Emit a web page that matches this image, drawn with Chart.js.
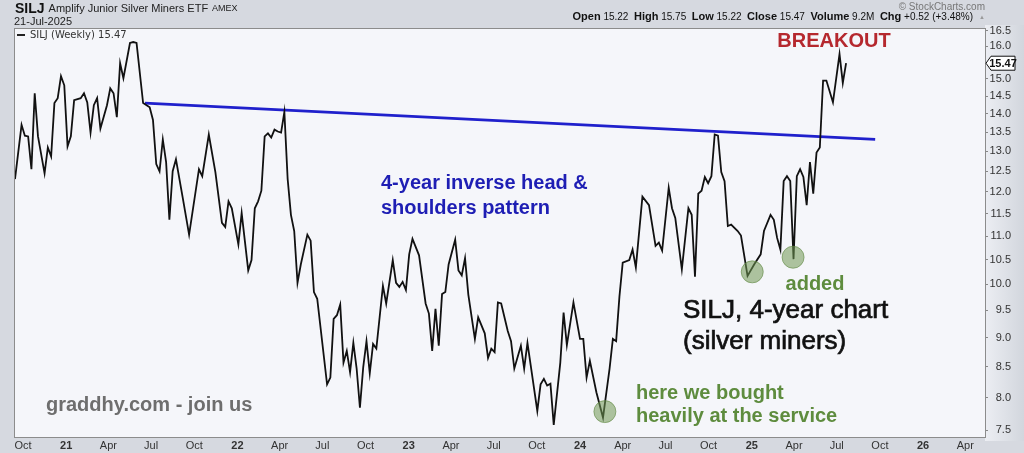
<!DOCTYPE html>
<html>
<head>
<meta charset="utf-8">
<script src="https://cdn.jsdelivr.net/npm/chart.js@4.4.1/dist/chart.umd.min.js"></script>
<style>
  html, body { margin: 0; padding: 0; background: #d6d9e0; }
  #wrap { width: 1024px; height: 453px; }
</style>
</head>
<body>
<div id="wrap"><canvas id="chartCanvas" width="1024" height="453"></canvas></div>
<script>
// weekly closes, x = weeks after startDate
const startDate = '2020-09-14';
const weeks = [
  0, 2, 3, 4, 5, 6, 7, 9, 10, 11,
  12, 13, 14, 15, 16, 17, 18, 20, 21, 22,
  23, 24, 25, 26, 28, 29, 30, 31, 32, 33,
  35, 36, 37, 39, 41, 42, 43, 44, 45, 46,
  47, 48, 49, 51, 53, 56, 57, 59, 61, 63,
  64, 65, 66, 68, 69, 71, 72, 73, 74, 75,
  76, 77, 78, 79, 80, 81, 82, 83, 84, 85,
  86, 87, 89, 90, 91, 92, 95, 96, 97, 98,
  99, 100, 101, 102, 103, 104, 105, 106, 107, 108,
  109, 110, 112, 113, 115, 116, 117, 118, 119, 120,
  121, 123, 125, 126, 127, 128, 129, 130, 131, 132,
  134, 135, 136, 137, 138, 140, 141, 143, 144, 145,
  146, 147, 148, 150, 151, 152, 154, 155, 156, 159,
  160, 161, 162, 163, 164, 166, 167, 168, 170, 172,
  173, 174, 175, 177, 179, 181, 182, 183, 184, 185,
  187, 188, 189, 191, 193, 195, 196, 197, 199, 200,
  201, 203, 205, 206, 207, 208, 209, 210, 211, 212,
  213, 214, 215, 216, 217, 218, 220, 221, 223, 225,
  227, 228, 230, 231, 232, 233, 234, 235, 236, 237,
  238, 239, 240, 241, 242, 243, 244, 245, 246, 247,
  249, 251, 252, 253
];
const closes = [
  12.31, 13.70, 13.41, 13.39, 12.55, 14.58, 13.39, 12.45, 13.10, 12.87,
  14.30, 14.44, 15.08, 14.81, 13.13, 13.39, 14.38, 14.44, 14.58, 14.32,
  13.49, 14.24, 14.44, 13.60, 14.24, 14.72, 14.58, 13.91, 15.47, 15.02,
  16.10, 16.13, 16.10, 14.30, 14.18, 13.83, 12.68, 12.50, 13.31, 12.73,
  11.36, 12.50, 12.80, 11.89, 11.03, 12.55, 12.38, 13.44, 12.48, 11.29,
  11.20, 11.78, 11.62, 10.82, 11.51, 10.28, 10.49, 11.62, 11.78, 12.03,
  13.39, 13.47, 13.36, 13.57, 13.52, 13.49, 14.05, 12.31, 11.47, 11.11,
  10.03, 10.40, 11.03, 10.90, 9.85, 9.72, 8.21, 8.32, 9.34, 9.41,
  9.61, 8.57, 8.77, 8.41, 8.91, 8.47, 7.84, 8.49, 8.94, 8.39,
  8.89, 8.81, 9.97, 9.63, 10.49, 10.03, 9.95, 10.05, 9.89, 10.61,
  10.94, 10.59, 9.63, 9.44, 8.77, 9.53, 8.86, 9.81, 9.85, 10.40,
  10.92, 10.28, 10.18, 10.53, 9.80, 8.98, 9.37, 9.08, 8.65, 8.81,
  8.75, 9.65, 9.63, 9.12, 8.94, 8.47, 8.86, 8.47, 8.91, 7.79,
  8.21, 8.30, 8.19, 8.22, 7.58, 8.57, 9.46, 8.87, 9.65, 8.98,
  8.98, 8.32, 8.60, 8.08, 7.69, 8.47, 8.98, 8.94, 9.76, 10.44,
  10.49, 10.71, 10.34, 11.89, 11.69, 10.79, 10.86, 10.69, 12.10, 11.62,
  11.40, 10.30, 11.62, 11.47, 10.15, 11.96, 12.03, 12.36, 12.21, 12.38,
  13.44, 13.41, 12.48, 12.26, 11.22, 11.25, 11.11, 11.01, 10.17, 10.40,
  10.61, 11.11, 11.47, 11.36, 10.96, 10.71, 12.26, 12.38, 12.26, 10.51,
  12.38, 12.55, 12.36, 11.69, 12.73, 11.96, 12.97, 13.10, 14.95, 14.95,
  14.32, 15.75, 14.88, 15.47
];

// neckline of the pattern
const trendDates = ['2021-06-18', '2025-09-21'];
const trendValues = [14.30, 13.31];

// green circles at the buy points
const circleDates = ['2024-02-23', '2025-01-02', '2025-03-30'];
const circleValues = [7.78, 10.25, 10.55];

const tickDates = [
  '2020-10-01', '2021-01-01', '2021-04-01', '2021-07-01', '2021-10-01', '2022-01-01',
  '2022-04-01', '2022-07-01', '2022-10-01', '2023-01-01', '2023-04-01', '2023-07-01',
  '2023-10-01', '2024-01-01', '2024-04-01', '2024-07-01', '2024-10-01', '2025-01-01',
  '2025-04-01', '2025-07-01', '2025-10-01', '2026-01-01', '2026-04-01'
];
const tickLabels = [
  'Oct', '21', 'Apr', 'Jul', 'Oct', '22', 'Apr', 'Jul', 'Oct', '23', 'Apr', 'Jul',
  'Oct', '24', 'Apr', 'Jul', 'Oct', '25', 'Apr', 'Jul', 'Oct', '26', 'Apr'
];
const yTicks = [7.5, 8.0, 8.5, 9.0, 9.5, 10.0, 10.5, 11.0, 11.5, 12.0, 12.5, 13.0, 13.5, 14.0, 14.5, 15.0, 15.5, 16.0, 16.5];
const endDate = '2026-05-13';

function weekOf(d) {
  return (Date.parse(d) - Date.parse(startDate)) / (7 * 864e5);
}

const FONT = 'Liberation Sans, Arial, sans-serif';

function txt(ctx, s, x, y, font, color, align, weight) {
  ctx.font = font;
  ctx.fillStyle = color;
  ctx.textAlign = align || 'left';
  ctx.textBaseline = 'middle';
  ctx.fillText(s, x, y);
  if (weight) {
    ctx.strokeStyle = color;
    ctx.lineWidth = weight;
    ctx.strokeText(s, x, y);
  }
  return ctx.measureText(s).width;
}

const decor = {
  id: 'decor',
  beforeDraw(chart) {
    const { ctx, chartArea: a } = chart;
    ctx.save();
    ctx.fillStyle = '#d6d9e0';
    ctx.fillRect(0, 0, chart.width, chart.height);
    const g = ctx.createLinearGradient(a.right, 0, chart.width, 0);
    g.addColorStop(0, '#eceef3');
    g.addColorStop(1, '#d2d6dd');
    ctx.fillStyle = g;
    ctx.fillRect(a.right, a.top - 4, chart.width - a.right, a.bottom - a.top + 8);
    ctx.fillStyle = '#f5f6fa';
    ctx.fillRect(a.left, a.top, a.right - a.left, a.bottom - a.top);
    ctx.restore();
  },
  afterDraw(chart) {
    const { ctx, chartArea: a } = chart;
    ctx.save();
    ctx.strokeStyle = '#8c8c8c';
    ctx.lineWidth = 1;
    ctx.strokeRect(a.left - 0.5, a.top - 0.5, a.right - a.left + 1, a.bottom - a.top + 1);

    // header
    let x = 15;
    x += txt(ctx, 'SILJ', x, 9, 'bold 14px ' + FONT, '#111');
    x += 4;
    x += txt(ctx, 'Amplify Junior Silver Miners ETF', x, 9, '11px ' + FONT, '#222');
    txt(ctx, 'AMEX', x + 4, 9, '9px ' + FONT, '#222');
    txt(ctx, '21-Jul-2025', 14, 22, '11px ' + FONT, '#222');
    txt(ctx, '\u00a9 StockCharts.com', 985, 7, '10px ' + FONT, '#777', 'right');

    const parts = [['Open', 1], [' 15.22  ', 0], ['High', 1], [' 15.75  ', 0], ['Low', 1], [' 15.22  ', 0],
      ['Close', 1], [' 15.47  ', 0], ['Volume', 1], [' 9.2M  ', 0], ['Chg', 1], [' +0.52 (+3.48%)', 0]];
    let total = 0;
    parts.forEach(p => { ctx.font = (p[1] ? 'bold 11px ' : '10px ') + FONT; total += ctx.measureText(p[0]).width; });
    x = 973 - total;
    parts.forEach(p => { x += txt(ctx, p[0], x, 17, (p[1] ? 'bold 11px ' : '10px ') + FONT, '#111'); });
    txt(ctx, '\u25b2', 979, 17, '6px ' + FONT, '#999');

    // legend
    ctx.strokeStyle = '#222';
    ctx.lineWidth = 2;
    ctx.beginPath(); ctx.moveTo(17, 35); ctx.lineTo(25, 35); ctx.stroke();
    txt(ctx, 'SILJ (Weekly) 15.47', 30, 35, '10px DejaVu Sans, sans-serif', '#333');

    // annotations
    const B = 'bold 20px ' + FONT;
    txt(ctx, 'BREAKOUT', 834, 41, B, '#b5282e', 'center');
    txt(ctx, '4-year inverse head &', 381, 183, B, '#1e1eb4');
    txt(ctx, 'shoulders pattern', 381, 208, B, '#1e1eb4');
    txt(ctx, 'added', 815, 284, B, '#5e8c3e', 'center');
    txt(ctx, 'SILJ, 4-year chart', 683, 311, '26px ' + FONT, '#111', 'left', 0.7);
    txt(ctx, '(silver miners)', 683, 342, '26px ' + FONT, '#111', 'left', 0.7);
    txt(ctx, 'here we bought', 636, 393, B, '#5e8c3e');
    txt(ctx, 'heavily at the service', 636, 416, B, '#5e8c3e');
    txt(ctx, 'graddhy.com - join us', 46, 405, B, '#6e6e6e');

    // last price tag
    const y = chart.scales.y.getPixelForValue(closes[closes.length - 1]);
    ctx.beginPath();
    ctx.moveTo(986, y);
    ctx.lineTo(991, y - 7);
    ctx.lineTo(1015, y - 7);
    ctx.lineTo(1015, y + 7);
    ctx.lineTo(991, y + 7);
    ctx.closePath();
    ctx.fillStyle = '#fff';
    ctx.fill();
    ctx.strokeStyle = '#111';
    ctx.lineWidth = 1;
    ctx.stroke();
    txt(ctx, closes[closes.length - 1].toFixed(2), 1003, y + 0.5, 'bold 11px ' + FONT, '#111', 'center');
    ctx.restore();
  }
};

new Chart(document.getElementById('chartCanvas').getContext('2d'), {
  type: 'line',
  data: {
    datasets: [
      {
        type: 'scatter',
        data: circleDates.map((d, i) => ({ x: weekOf(d), y: circleValues[i] })),
        pointRadius: 11,
        backgroundColor: 'rgba(112,152,82,0.55)',
        borderColor: 'rgba(95,135,65,0.6)',
        borderWidth: 1,
        order: 0
      },
      {
        data: weeks.map((w, i) => ({ x: w, y: closes[i] })),
        borderColor: '#111',
        borderWidth: 1.8,
        pointRadius: 0,
        tension: 0,
        order: 1
      },
      {
        data: trendDates.map((d, i) => ({ x: weekOf(d), y: trendValues[i] })),
        borderColor: '#2020cc',
        borderWidth: 2.8,
        pointRadius: 0,
        order: 2
      }
    ]
  },
  options: {
    responsive: false,
    animation: false,
    layout: { padding: { left: 15, top: 29, right: 13, bottom: 0 } },
    plugins: { legend: { display: false }, tooltip: { enabled: false } },
    scales: {
      x: {
        type: 'linear',
        min: 0,
        max: weekOf(endDate),
        afterBuildTicks: s => { s.ticks = tickDates.map(d => ({ value: weekOf(d) })); },
        afterFit: s => { s.height = 16; },
        grid: { display: false, drawTicks: false },
        border: { display: false },
        ticks: {
          autoSkip: false,
          maxRotation: 0,
          padding: 2,
          color: '#333',
          font: c => ({ family: FONT, size: 11, weight: /^\d/.test(tickLabels[c.index] || '') ? 'bold' : 'normal' }),
          callback: (v, i) => tickLabels[i]
        }
      },
      y: {
        type: 'logarithmic',
        position: 'right',
        min: 7.4,
        max: 16.55,
        afterBuildTicks: s => { s.ticks = yTicks.map(v => ({ value: v })); },
        afterFit: s => { s.width = 26; },
        grid: { drawOnChartArea: false, tickLength: 3, color: '#888' },
        border: { display: false },
        ticks: {
          crossAlign: 'far',
          padding: 2,
          color: '#333',
          font: { family: FONT, size: 11 },
          callback: v => v.toFixed(1)
        }
      }
    }
  },
  plugins: [decor]
});
</script>
</body>
</html>
